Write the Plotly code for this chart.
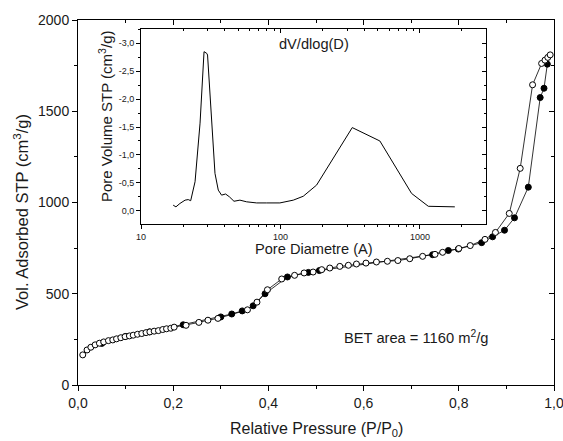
import plotly.graph_objects as go

# ---- Main isotherm data ----
open_p = [0.010, 0.019, 0.027, 0.036, 0.045, 0.054, 0.064, 0.073, 0.081, 0.090,
          0.099, 0.108, 0.116, 0.125, 0.134, 0.143, 0.151, 0.160, 0.169, 0.178,
          0.186, 0.195, 0.202, 0.227, 0.254, 0.273, 0.294, 0.356, 0.376, 0.398,
          0.428, 0.455, 0.475, 0.494, 0.512, 0.529, 0.550, 0.568, 0.585, 0.605,
          0.627, 0.650, 0.672, 0.697, 0.724, 0.750, 0.766, 0.800, 0.824, 0.855,
          0.877, 0.906, 0.929, 0.955, 0.974, 0.981, 0.987, 0.992]
open_v = [165, 192, 207, 220, 229, 236, 243, 247, 253, 259,
          265, 269, 273, 278, 282, 287, 291, 295, 298, 304,
          308, 311, 317, 327, 343, 355, 365, 412, 454, 522,
          581, 601, 614, 619, 632, 641, 650, 656, 663, 668,
          674, 678, 682, 692, 705, 716, 727, 748, 764, 798,
          836, 940, 1187, 1645, 1762, 1780, 1795, 1809]

filled_p = [0.050, 0.100, 0.150, 0.221, 0.300, 0.323, 0.345, 0.368, 0.393, 0.440,
            0.484, 0.507, 0.745, 0.778, 0.799, 0.848, 0.871, 0.896, 0.917, 0.946,
            0.971, 0.979, 0.986]
filled_v = [228, 266, 291, 330, 373, 389, 406, 434, 500, 592,
            617, 627, 714, 737, 745, 780, 812, 848, 916, 1084,
            1575, 1626, 1758]

# ---- Inset pore size distribution ----
pore_d = [17.0, 17.8, 19.0, 20.7, 21.8, 22.7, 24.4, 26.5, 28.3, 29.6,
          30.0, 32.1, 33.9, 35.8, 37.8, 40.4, 43.0, 46.4, 51.2, 57.2,
          67.5, 79.6, 99.0, 123.5, 145.6, 181.5, 327.0, 516.0, 871.0, 1148.0,
          1778.0]
pore_v = [-0.10, -0.07, -0.13, -0.19, -0.20, -0.18, -0.52, -1.57, -2.85, -2.82,
          -2.79, -1.50, -0.67, -0.37, -0.28, -0.30, -0.25, -0.17, -0.19, -0.16,
          -0.14, -0.14, -0.14, -0.19, -0.26, -0.46, -1.49, -1.25, -0.31, -0.08,
          -0.07]

# ---- Tick labels ----
main_x_ticks = [0.0, 0.2, 0.4, 0.6, 0.8, 1.0]
main_x_text = ["0,0", "0,2", "0,4", "0,6", "0,8", "1,0"]
main_x_minor = [0.1, 0.3, 0.5, 0.7, 0.9]
main_y_ticks = [0, 500, 1000, 1500, 2000]
main_y_text = ["0", "500", "1000", "1500", "2000"]
main_y_minor = [250, 750, 1250, 1750]
inset_x_ticks = [10, 100, 1000]
inset_x_text = ["10", "100", "1000"]
inset_x_minor = [20, 30, 40, 50, 60, 70, 80, 90, 200, 300, 400, 500, 600, 700,
                 800, 900, 2000]
inset_y_ticks = [0.0, -0.5, -1.0, -1.5, -2.0, -2.5, -3.0]
inset_y_text = ["0,0", "-0,5", "-1,0", "-1,5", "-2,0", "-2,5", "-3,0"]
inset_y_minor = [-0.25, -0.75, -1.25, -1.75, -2.25, -2.75, -3.25]

FONT = "Liberation Sans, Arial, sans-serif"
TXT = "#1a1a1a"

fig = go.Figure()

fig.add_trace(go.Scatter(
    x=filled_p, y=filled_v, mode="lines+markers",
    line=dict(color="black", width=0.8),
    marker=dict(symbol="circle", size=6, color="black",
                line=dict(color="black", width=1)),
    showlegend=False, xaxis="x", yaxis="y"))
fig.add_trace(go.Scatter(
    x=open_p, y=open_v, mode="lines+markers",
    line=dict(color="black", width=0.8),
    marker=dict(symbol="circle", size=6, color="white",
                line=dict(color="black", width=1)),
    showlegend=False, xaxis="x", yaxis="y"))

fig.add_trace(go.Scatter(
    x=pore_d, y=pore_v, mode="lines",
    line=dict(color="black", width=1),
    showlegend=False, xaxis="x2", yaxis="y2"))

# invisible traces to carry mirror axes
fig.add_trace(go.Scatter(x=[None], y=[None], xaxis="x3", yaxis="y3",
                         showlegend=False, hoverinfo="skip"))
fig.add_trace(go.Scatter(x=[None], y=[None], xaxis="x4", yaxis="y4",
                         showlegend=False, hoverinfo="skip"))

base = dict(showgrid=False, zeroline=False, automargin=False)
ax_common = dict(**base, linecolor="black", linewidth=1,
                 tickcolor="black", tickwidth=1, ticklabeloverflow="allow",
                 tickfont=dict(family=FONT, size=14, color=TXT))

inset_dom_x = [0.1324, 0.857]
inset_dom_y = [0.441, 0.9753]
inset_xr = [1.0, 3.473]
inset_yr = [0.238, -3.256]
inset_tickfont = dict(family=FONT, size=9, color=TXT)

fig.update_layout(
    width=563, height=441,
    margin=dict(l=78, r=9, t=20, b=56, autoexpand=False),
    paper_bgcolor="white", plot_bgcolor="white",
    showlegend=False,
    xaxis=dict(**ax_common, domain=[0, 1], range=[0, 1], anchor="y",
               showline=True, mirror=True, ticks="outside", ticklen=5,
               tickmode="array", tickvals=main_x_ticks, ticktext=main_x_text,
               minor=dict(tickmode="array", tickvals=main_x_minor, ticks="outside",
                          ticklen=3, tickcolor="black")),
    yaxis=dict(**ax_common, domain=[0, 1], range=[0, 2000], anchor="x",
               showline=True, mirror=True, ticks="outside", ticklen=5,
               tickmode="array", tickvals=main_y_ticks, ticktext=main_y_text,
               minor=dict(tickmode="array", tickvals=main_y_minor, ticks="outside",
                          ticklen=3, tickcolor="black")),
    xaxis3=dict(**base, overlaying="x", side="top",
                anchor="y", range=[0, 1], showline=False, showticklabels=False,
                ticks="inside", ticklen=5, tickcolor="black",
                tickmode="array", tickvals=main_x_ticks,
                minor=dict(tickmode="array", tickvals=main_x_minor, ticks="inside",
                           ticklen=3, tickcolor="black")),
    yaxis3=dict(**base, overlaying="y", side="right",
                anchor="x", range=[0, 2000], showline=False, showticklabels=False,
                ticks="inside", ticklen=5, tickcolor="black",
                tickmode="array", tickvals=main_y_ticks,
                minor=dict(tickmode="array", tickvals=main_y_minor, ticks="inside",
                           ticklen=3, tickcolor="black")),
    xaxis2=dict(**base, linecolor="black", linewidth=1,
                tickcolor="black", tickfont=inset_tickfont,
                domain=inset_dom_x, anchor="y2", type="log", range=inset_xr,
                showline=True, mirror=True, ticks="outside", ticklen=4,
                tickmode="array", tickvals=inset_x_ticks, ticktext=inset_x_text,
                minor=dict(tickmode="array", tickvals=inset_x_minor, ticks="outside",
                           ticklen=2, tickcolor="black")),
    yaxis2=dict(**base, linecolor="black", linewidth=1,
                tickcolor="black", tickfont=inset_tickfont,
                domain=inset_dom_y, anchor="x2", range=inset_yr,
                showline=True, mirror=True, ticks="outside", ticklen=4,
                tickmode="array", tickvals=inset_y_ticks, ticktext=inset_y_text,
                minor=dict(tickmode="array", tickvals=inset_y_minor, ticks="outside",
                           ticklen=2, tickcolor="black")),
    xaxis4=dict(**base, overlaying="x2", side="top",
                anchor="y2", type="log", range=inset_xr, showline=False,
                showticklabels=False, ticks="inside", ticklen=4, tickcolor="black",
                tickmode="array", tickvals=inset_x_ticks,
                minor=dict(tickmode="array", tickvals=inset_x_minor, ticks="inside",
                           ticklen=2, tickcolor="black")),
    yaxis4=dict(**base, overlaying="y2", side="right",
                anchor="x2", range=inset_yr, showline=False,
                showticklabels=False, ticks="inside", ticklen=4, tickcolor="black",
                tickmode="array", tickvals=inset_y_ticks,
                minor=dict(tickmode="array", tickvals=inset_y_minor, ticks="inside",
                           ticklen=2, tickcolor="black")),
)

def px_to_paper(xp, yp):
    return (xp - 78) / 476.0, (385 - yp) / 365.0

annots = [
    ("Relative Pressure (P/P<sub>0</sub>)", 316, 429, 0, 16),
    ("Vol. Adsorbed STP (cm<sup>3</sup>/g)", 21, 212, -90, 16.5),
    ("Pore Volume STP (cm<sup>3</sup>/g)", 105, 117, -90, 15),
    ("Pore Diametre (A)", 314, 249, 0, 14.6),
    ("dV/dlog(D)", 314, 44, 0, 14.6),
    ("BET area = 1160 m<sup>2</sup>/g", 416, 337, 0, 14.7),
]
for text, xp, yp, ang, sz in annots:
    xx, yy = px_to_paper(xp, yp)
    fig.add_annotation(text=text, x=xx, y=yy, xref="paper", yref="paper",
                       showarrow=False, textangle=ang, xanchor="center",
                       yanchor="middle",
                       font=dict(family=FONT, size=sz, color=TXT))

fig.write_html(
    "out.html",
    config={"displayModeBar": False},
    post_script="document.body.style.margin='0';document.body.style.padding='0';"
                "document.body.style.overflow='hidden';"
                "document.documentElement.style.overflow='hidden';",
)
